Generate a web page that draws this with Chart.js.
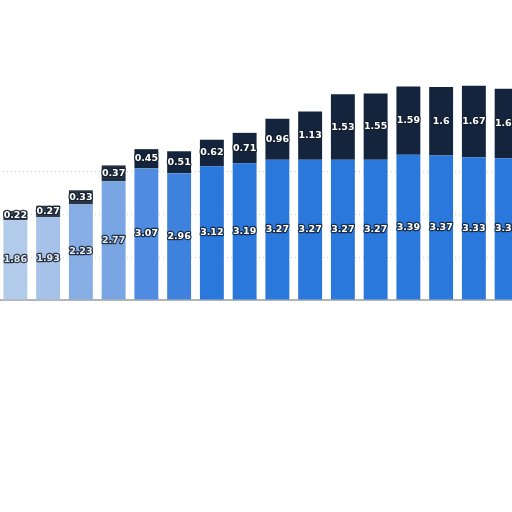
<!DOCTYPE html>
<html>
<head>
<meta charset="utf-8">
<script src="https://cdn.jsdelivr.net/npm/chart.js@4"></script>
<style>
  html, body { margin: 0; padding: 0; background: #fff; overflow: hidden; }
  #wrap { position: absolute; left: -1px; top: 0; width: 524px; height: 512px; }
</style>
</head>
<body>
<div id="wrap"><canvas id="barChart"></canvas></div>
<script>
// values (last bar is cut at the right edge)
const categories = ['1', '2', '3', '4', '5', '6', '7', '8', '9', '10', '11', '12', '13', '14', '15', '16'];
const lowerValues = [1.86, 1.93, 2.23, 2.77, 3.07, 2.96, 3.12, 3.19, 3.27, 3.27, 3.27, 3.27, 3.39, 3.37, 3.33, 3.31];
const upperValues = [0.22, 0.27, 0.33, 0.37, 0.45, 0.51, 0.62, 0.71, 0.96, 1.13, 1.53, 1.55, 1.59, 1.6, 1.67, 1.62];

// left bars look washed out in the reference
const blueShades = ['#b3cbea', '#a6c2e8', '#86ade4', '#79a6e3', '#4f8be0', '#3f82de'];
const navyShades = ['#3a4452', '#333e4d', '#2a3546', '#222e40'];
const lowerColors = categories.map((c, i) => blueShades[i] || '#2b78dc');
const upperColors = categories.map((c, i) => navyShades[i] || '#13243c');

// draws the value in the middle of each bar segment
const segmentLabels = {
  id: 'segmentLabels',
  afterDatasetsDraw(chart) {
    const ctx = chart.ctx;
    ctx.save();
    ctx.font = 'bold 9.5px "DejaVu Sans", sans-serif';
    ctx.textAlign = 'center';
    ctx.textBaseline = 'middle';
    ctx.lineJoin = 'round';
    chart.data.datasets.forEach((ds, di) => {
      const meta = chart.getDatasetMeta(di);
      meta.data.forEach((bar, i) => {
        const { x, y, base } = bar.getProps(['x', 'y', 'base'], true);
        const text = String(ds.data[i]);
        const cy = (y + base) / 2;
        ctx.lineWidth = 2.5;
        ctx.strokeStyle = 'rgba(20,30,45,0.85)';
        ctx.strokeText(text, x, cy);
        ctx.fillStyle = i < 4 && di === 0 ? '#e4e8ee' : '#ffffff';
        ctx.fillText(text, x, cy);
      });
    });
    ctx.restore();
  }
};

new Chart(document.getElementById('barChart'), {
  type: 'bar',
  data: {
    labels: categories,
    datasets: [
      {
        label: 'lower',
        data: lowerValues,
        backgroundColor: lowerColors,
        borderWidth: 0,
        barPercentage: 0.73,
        categoryPercentage: 1
      },
      {
        label: 'upper',
        data: upperValues,
        backgroundColor: upperColors,
        borderWidth: 0,
        barPercentage: 0.73,
        categoryPercentage: 1
      }
    ]
  },
  options: {
    responsive: true,
    maintainAspectRatio: false,
    animation: false,
    layout: { padding: { left: 0, right: 0, top: 0, bottom: 204 } },
    plugins: {
      legend: { display: false },
      tooltip: { enabled: false }
    },
    scales: {
      x: {
        stacked: true,
        ticks: { display: false },
        grid: { display: false },
        border: { display: true, color: '#b5b5b5', width: 2 }
      },
      y: {
        stacked: true,
        min: 0,
        max: 7,
        ticks: { display: false, stepSize: 1 },
        grid: {
          color: (c) => (c.tick && c.tick.value > 0 && c.tick.value <= 3 ? '#cfcfcf' : 'rgba(0,0,0,0)'),
          lineWidth: 1,
          drawTicks: false
        },
        border: { display: false, dash: [1, 3] }
      }
    }
  },
  plugins: [segmentLabels]
});
</script>
</body>
</html>
